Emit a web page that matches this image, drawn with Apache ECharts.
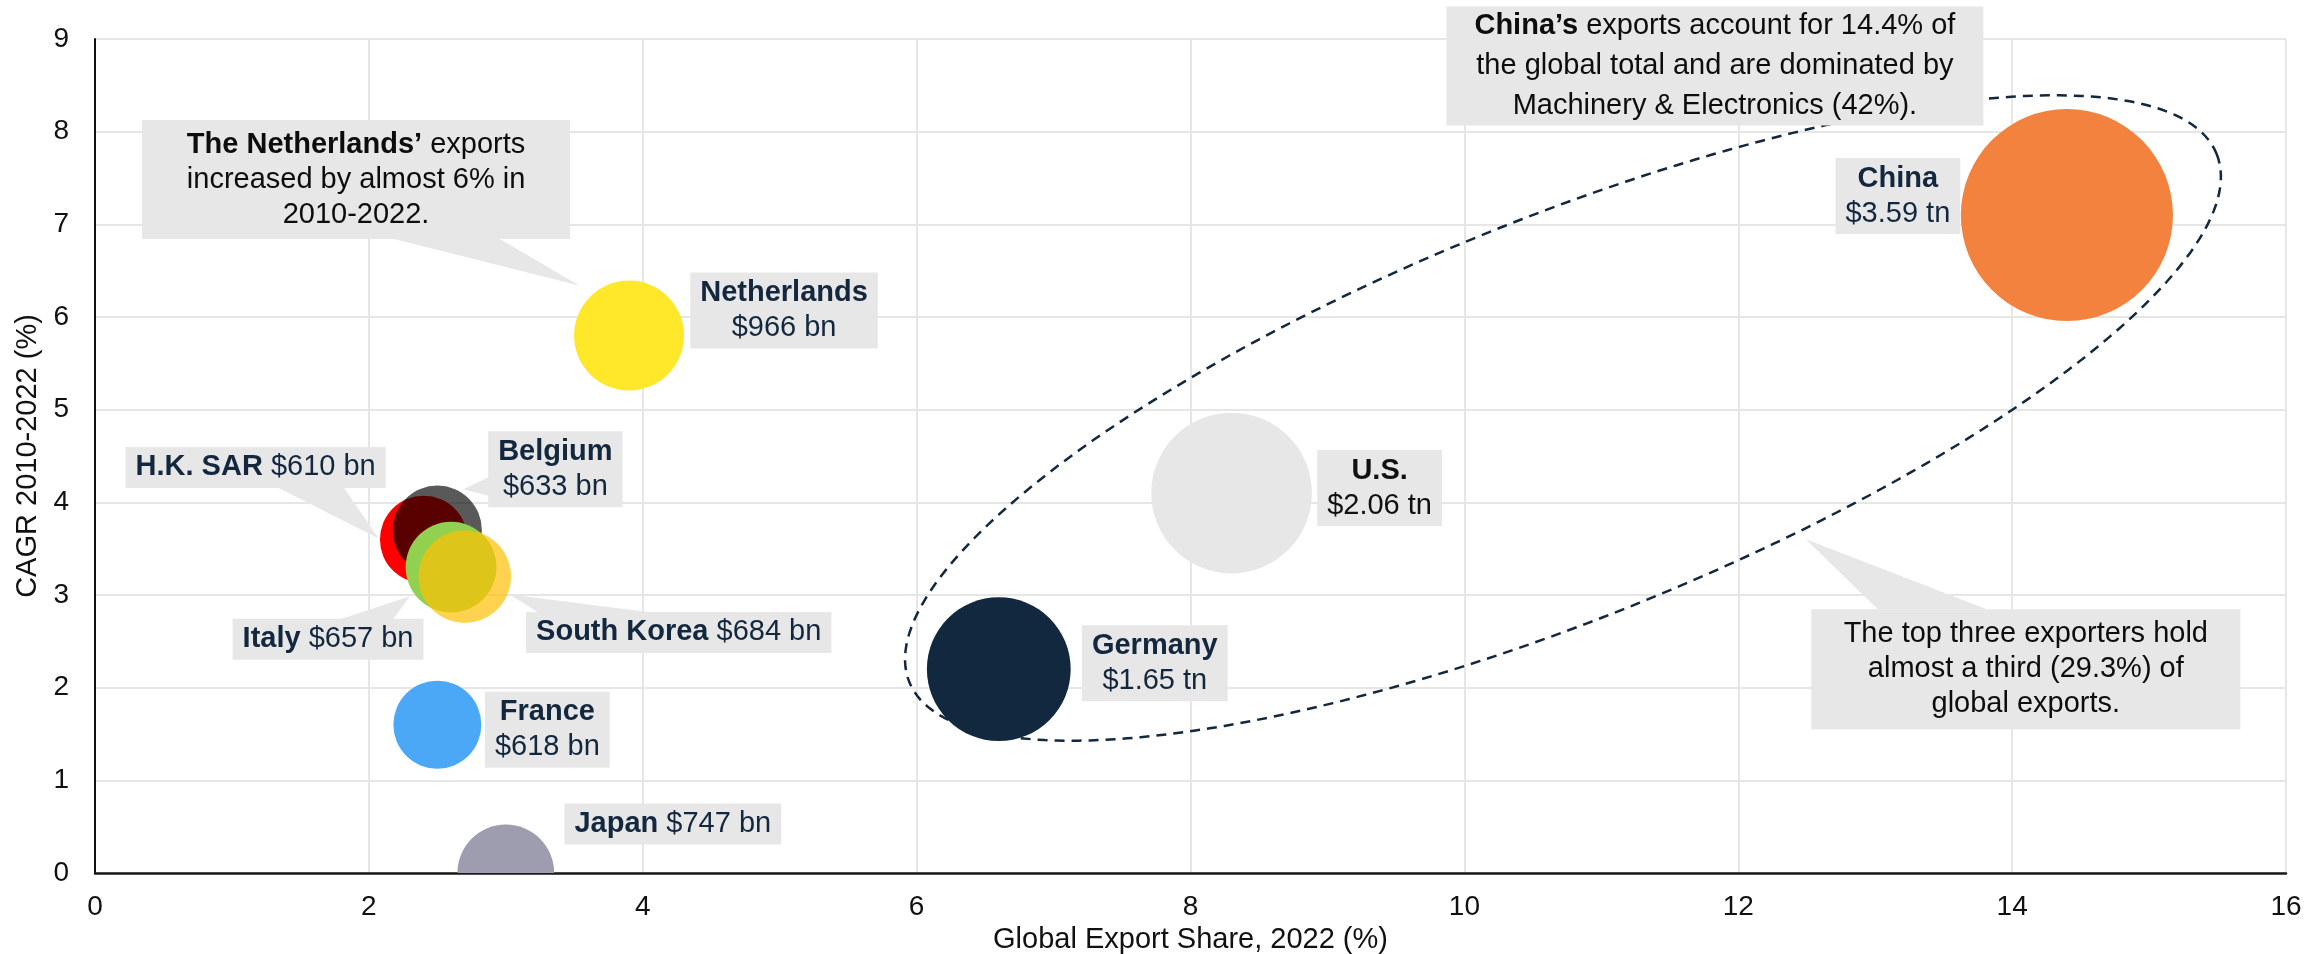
<!DOCTYPE html>
<html>
<head>
<meta charset="utf-8">
<script src="https://cdn.jsdelivr.net/npm/echarts@6/dist/echarts.min.js"></script>
<style>
  html, body { margin: 0; padding: 0; background: #ffffff; }
  #chart { width: 2307px; height: 954px; }
</style>
</head>
<body>
<div id="chart"></div>
<script>
// ---- Data: leading exporters, 2022 ----
const countries   = ['China', 'U.S.', 'Germany', 'Netherlands', 'Japan', 'France', 'H.K. SAR', 'Belgium', 'Italy', 'South Korea'];
const exportShare = [14.4, 8.3, 6.6, 3.9, 3.0, 2.5, 2.4, 2.5, 2.6, 2.7];      // % of global exports
const cagr        = [7.1, 4.1, 2.2, 5.8, 0.0, 1.6, 3.6, 3.7, 3.3, 3.2];       // CAGR 2010-2022, %
const exportValue = [3590, 2060, 1650, 966, 747, 618, 610, 633, 657, 684];   // $ bn
const xTickValues = [0, 2, 4, 6, 8, 10, 12, 14, 16];
const yTickValues = [0, 1, 2, 3, 4, 5, 6, 7, 8, 9];

// ---- Styling ----
const FONT = '"Liberation Sans", Arial, Helvetica, sans-serif';
const NAVY = '#13283F';
const BOX_FILL = '#E7E7E7';
const DIAMETER_PER_SQRT_BN = 3.54;   // bubble area proportional to export value

const bubbleFill = {
  'China': '#F4823F',
  'U.S.': '#E7E7E7',
  'Germany': '#12283F',
  'Netherlands': '#FFE82A',
  'Japan': '#9D9DAF',
  'France': '#4BA8F6',
  'H.K. SAR': '#FF0000',
  'Belgium': 'rgba(0,0,0,0.65)',
  'Italy': '#92D050',
  'South Korea': 'rgba(255,191,0,0.69)'
};

// label box placement relative to the bubble centre (px), optional callout tail
const labelPlacement = {
  'China':       { offset: [-169, -19], twoLines: true },
  'U.S.':        { offset: [148, -5], twoLines: true, color: '#111111' },
  'Germany':     { offset: [156, -6], twoLines: true },
  'Netherlands': { offset: [155, -25], twoLines: true },
  'Japan':       { offset: [167, -49], twoLines: false },
  'France':      { offset: [110, 5], twoLines: true },
  'H.K. SAR':    { offset: [-168, -72], twoLines: false,
                   tail: [[-146, -52], [-80, -52], [-45, -1]] },
  'Belgium':     { offset: [118, -61], twoLines: true,
                   tail: [[53, -54], [53, -34], [26, -41]] },
  'Italy':       { offset: [-123, 72], twoLines: false,
                   tail: [[-111, 52], [-58, 52], [-41, 29]] },
  'South Korea': { offset: [214, 56], twoLines: false,
                   tail: [[75, 37], [195, 37], [45, 18]] }
};

function formatValue(bn) {
  return bn >= 1000 ? '$' + (bn / 1000).toFixed(2) + ' tn' : '$' + bn + ' bn';
}

const chartData = countries.map((c, i) => [exportShare[i], cagr[i], exportValue[i]]);

const chart = echarts.init(document.getElementById('chart'), null, { renderer: 'canvas' });

const textBase = { fontFamily: FONT, fontSize: 29, lineHeight: 35 };

chart.setOption({
  animation: false,
  backgroundColor: '#ffffff',
  grid: { left: 95, right: 21, top: 39, bottom: 81, containLabel: false, outerBoundsMode: 'none' },
  xAxis: {
    type: 'value',
    min: xTickValues[0], max: xTickValues[xTickValues.length - 1],
    interval: xTickValues[1] - xTickValues[0],
    name: 'Global Export Share, 2022 (%)',
    nameLocation: 'middle', nameGap: 50,
    nameTextStyle: { fontFamily: FONT, fontSize: 29, color: '#111111' },
    axisLine: { show: true, onZero: false, lineStyle: { color: '#1a1a1a', width: 2.5 } },
    axisTick: { show: false },
    axisLabel: { fontFamily: FONT, fontSize: 28, color: '#111111', margin: 20 },
    splitLine: { show: true, lineStyle: { color: '#E6E6E6', width: 2 } }
  },
  yAxis: {
    type: 'value',
    min: yTickValues[0], max: yTickValues[yTickValues.length - 1],
    interval: yTickValues[1] - yTickValues[0],
    name: 'CAGR 2010-2022 (%)',
    nameLocation: 'middle', nameGap: 52, nameRotate: 90,
    nameTextStyle: { fontFamily: FONT, fontSize: 29, color: '#111111' },
    axisLine: { show: true, onZero: false, lineStyle: { color: '#111111', width: 2 } },
    axisTick: { show: false },
    axisLabel: { fontFamily: FONT, fontSize: 28, color: '#111111', margin: 26 },
    splitLine: { show: true, lineStyle: { color: '#E6E6E6', width: 2 } }
  },
  series: [
    {
      // bubbles, clipped to the plot area
      type: 'custom',
      name: 'Exporters',
      coordinateSystem: 'cartesian2d',
      clip: true,
      z: 2,
      encode: { x: 0, y: 1 },
      data: chartData,
      renderItem: function (params, api) {
        const p = api.coord([api.value(0), api.value(1)]);
        const r = DIAMETER_PER_SQRT_BN * Math.sqrt(api.value(2)) / 2;
        return {
          type: 'circle',
          shape: { cx: p[0], cy: p[1], r: r },
          style: { fill: bubbleFill[countries[params.dataIndex]] }
        };
      }
    },
    {
      // country labels in grey boxes
      type: 'custom',
      name: 'Labels',
      coordinateSystem: 'cartesian2d',
      clip: false,
      z: 4,
      silent: true,
      encode: { x: 0, y: 1 },
      data: chartData,
      renderItem: function (params, api) {
        const name = countries[params.dataIndex];
        const pl = labelPlacement[name];
        const c = api.coord([api.value(0), api.value(1)]);
        const color = pl.color || NAVY;
        const children = [];
        if (pl.tail) {
          children.push({
            type: 'polygon', z2: 1,
            shape: { points: pl.tail.map(t => [c[0] + t[0], c[1] + t[1]]) },
            style: { fill: BOX_FILL }
          });
        }
        const sep = pl.twoLines ? '\n' : ' ';
        children.push({
          type: 'text', z2: 2,
          x: c[0] + pl.offset[0], y: c[1] + pl.offset[1],
          style: Object.assign({}, textBase, {
            text: '{n|' + name + '}' + sep + '{v|' + formatValue(api.value(2)) + '}',
            fill: color,
            align: 'center', verticalAlign: 'middle',
            backgroundColor: BOX_FILL,
            padding: [3, 10],
            rich: {
              n: Object.assign({}, textBase, { fontWeight: 'bold', fill: color }),
              v: Object.assign({}, textBase, { fill: color })
            }
          })
        });
        return { type: 'group', children: children };
      }
    }
  ]
});

// ---- Annotations ----
function toPx(pt) { return chart.convertToPixel({ gridIndex: 0 }, pt); }
function idx(name) { return countries.indexOf(name); }

const notes = [
  {
    anchor: [exportShare[idx('Netherlands')], cagr[idx('Netherlands')]],
    center: [-273, -156], size: [428, 119], lineHeight: 35,
    tail: [[-237, -97], [-130, -97], [-50, -50]],
    lines: ['{b|The Netherlands’}{r| exports}', '{r|increased by almost 6% in}', '{r|2010-2022.}']
  },
  {
    anchor: [exportShare[idx('China')], cagr[idx('China')]],
    center: [-352, -149], size: [537, 119], lineHeight: 40,
    tail: null,
    lines: ['{b|China’s}{r| exports account for 14.4% of}', '{r|the global total and are dominated by}', '{r|Machinery & Electronics (42%).}']
  },
  {
    anchor: [14.1, 2.2],
    center: [0, 0], size: [429, 120], lineHeight: 35,
    tail: [[-148, -60], [-39, -60], [-220, -130]],
    lines: ['{r|The top three exporters hold}', '{r|almost a third (29.3%) of}', '{r|global exports.}']
  }
];

// dashed ring around the three largest exporters
const ring = { center: [10.72, 4.91], a: 705, b: 200, angleDeg: 22 };

function ringPoints() {
  const c = toPx(ring.center);
  const t = ring.angleDeg * Math.PI / 180;
  const pts = [];
  const n = 240;
  for (let k = 0; k < n; k++) {
    const u = 2 * Math.PI * k / n;
    const ex = ring.a * Math.cos(u), ey = ring.b * Math.sin(u);
    pts.push([c[0] + ex * Math.cos(t) + ey * Math.sin(t), c[1] - ex * Math.sin(t) + ey * Math.cos(t)]);
  }
  return pts;
}

const graphics = [{
  type: 'polygon', z: 1, silent: true,
  shape: { points: ringPoints() },
  style: { fill: 'none', stroke: NAVY, lineWidth: 2.5, lineDash: [10, 7] }
}];

notes.forEach(note => {
  const a = toPx(note.anchor);
  const cx = a[0] + note.center[0], cy = a[1] + note.center[1];
  if (note.tail) {
    graphics.push({
      type: 'polygon', z: 5, silent: true,
      shape: { points: note.tail.map(t => [a[0] + t[0], a[1] + t[1]]) },
      style: { fill: BOX_FILL }
    });
  }
  graphics.push({
    type: 'rect', z: 5, silent: true,
    shape: { x: cx - note.size[0] / 2, y: cy - note.size[1] / 2, width: note.size[0], height: note.size[1] },
    style: { fill: BOX_FILL }
  });
  const lh = note.lineHeight;
  graphics.push({
    type: 'text', z: 6, silent: true,
    x: cx, y: cy,
    style: {
      text: note.lines.join('\n'),
      fontFamily: FONT, fontSize: 29, lineHeight: lh,
      fill: '#0d0d0d',
      align: 'center', verticalAlign: 'middle',
      rich: {
        b: { fontFamily: FONT, fontSize: 29, fontWeight: 'bold', lineHeight: lh, fill: '#0d0d0d' },
        r: { fontFamily: FONT, fontSize: 29, lineHeight: lh, fill: '#0d0d0d' }
      }
    }
  });
});

chart.setOption({ graphic: graphics });
</script>
</body>
</html>
